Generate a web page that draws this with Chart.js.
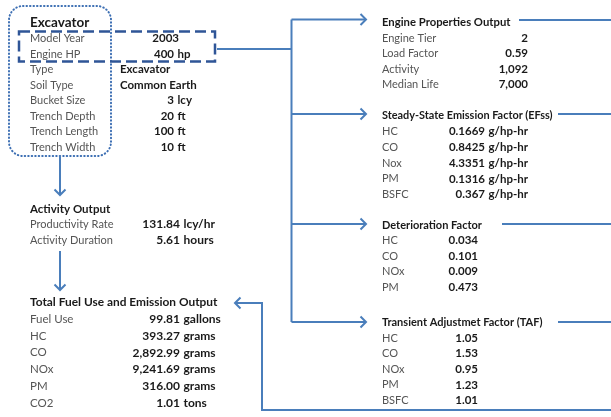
<!DOCTYPE html>
<html>
<head>
<meta charset="utf-8">
<script src="https://cdn.jsdelivr.net/npm/chart.js@4.4.0/dist/chart.umd.min.js"></script>
<style>
  html, body { margin: 0; padding: 0; background: #fff; }
  canvas { display: block; }
</style>
</head>
<body>
<canvas id="flow" width="611" height="417"></canvas>
<script>
// ---- data ----
const inputTitle = "Excavator";
const inputLabels = ["Model Year", "Engine HP", "Type", "Soil Type", "Bucket Size", "Trench Depth", "Trench Length", "Trench Width"];
const inputValues = ["2003", "400", "Excavator", "Common Earth", "3", "20", "100", "10"];
const inputUnits = ["", "hp", "", "", "lcy", "ft", "ft", "ft"];

const activityTitle = "Activity Output";
const activityLabels = ["Productivity Rate", "Activity Duration"];
const activityValues = ["131.84", "5.61"];
const activityUnits = ["lcy/hr", "hours"];

const totalTitle = "Total Fuel Use and Emission Output";
const totalLabels = ["Fuel Use", "HC", "CO", "NOx", "PM", "CO2"];
const totalValues = ["99.81", "393.27", "2,892.99", "9,241.69", "316.00", "1.01"];
const totalUnits = ["gallons", "grams", "grams", "grams", "grams", "tons"];

const engineTitle = "Engine Properties Output";
const engineLabels = ["Engine Tier", "Load Factor", "Activity", "Median Life"];
const engineValues = ["2", "0.59", "1,092", "7,000"];

const efTitle = "Steady-State Emission Factor (EFss)";
const efLabels = ["HC", "CO", "Nox", "PM", "BSFC"];
const efValues = ["0.1669", "0.8425", "4.3351", "0.1316", "0.367"];
const efUnits = ["g/hp-hr", "g/hp-hr", "g/hp-hr", "g/hp-hr", "g/hp-hr"];

const detTitle = "Deterioration Factor";
const detLabels = ["HC", "CO", "NOx", "PM"];
const detValues = ["0.034", "0.101", "0.009", "0.473"];

const tafTitle = "Transient Adjustmet Factor (TAF)";
const tafLabels = ["HC", "CO", "NOx", "PM", "BSFC"];
const tafValues = ["1.05", "1.53", "0.95", "1.23", "1.01"];

// ---- look ----
const FONT = "Lato, 'Open Sans', sans-serif";
const labelColor = "#555555";
const valueColor = "#1a1a1a";
const lineColor = "#4a7ebb";
const boxColor = "#2f5597";

// text blocks; x/y in canvas units, converted through the chart scales
const blocks = [
  { title: inputTitle, titleSize: 13.5, labelSize: 11, valueSize: 11.5, labels: inputLabels, values: inputValues, units: inputUnits,
    x: 30, titleY: 22.5, y: 38.5, step: 15.5, numRight: 174, textLeft: 120 },
  { title: activityTitle, titleSize: 11.5, labelSize: 11, valueSize: 12, labels: activityLabels, values: activityValues, units: activityUnits,
    x: 30, titleY: 209, y: 224.5, step: 15.8, numRight: 180 },
  { title: totalTitle, titleSize: 11.9, labelSize: 11.5, valueSize: 12, labels: totalLabels, values: totalValues, units: totalUnits,
    x: 30, titleY: 302.5, y: 319.3, step: 16.7, numRight: 180 },
  { title: engineTitle, titleSize: 11.3, labelSize: 11, valueSize: 11.5, labels: engineLabels, values: engineValues,
    x: 382, titleY: 22, y: 38.3, step: 15.4, numRight: 528 },
  { title: efTitle, titleSize: 10.9, labelSize: 11, valueSize: 11.5, labels: efLabels, values: efValues, units: efUnits,
    x: 382, titleY: 115, y: 131.7, step: 15.7, numRight: 485 },
  { title: detTitle, titleSize: 11, labelSize: 11, valueSize: 11.5, labels: detLabels, values: detValues,
    x: 382, titleY: 225, y: 240.5, step: 15.5, numRight: 478 },
  { title: tafTitle, titleSize: 11, labelSize: 11, valueSize: 11.5, labels: tafLabels, values: tafValues,
    x: 382, titleY: 322.3, y: 338, step: 15.6, numRight: 478 }
];

function drawBlock(ctx, X, Y, b) {
  ctx.textBaseline = "middle";
  ctx.fillStyle = valueColor;
  ctx.textAlign = "left";
  ctx.font = "bold " + b.titleSize + "px " + FONT;
  ctx.fillText(b.title, X(b.x), Y(b.titleY));
  b.labels.forEach((lab, i) => {
    const y = Y(b.y + i * b.step);
    ctx.font = b.labelSize + "px " + FONT;
    ctx.fillStyle = labelColor;
    ctx.textAlign = "left";
    ctx.fillText(lab, X(b.x), y);
    const v = b.values[i];
    ctx.font = "bold " + b.valueSize + "px " + FONT;
    ctx.fillStyle = valueColor;
    if (/^[\d.,]+$/.test(v)) {
      ctx.textAlign = "right";
      const hasUnit = b.units && b.units[i];
      const right = hasUnit ? b.numRight : b.numRight + (b.textLeft ? 5 : 0);
      ctx.fillText(v, X(right), y);
      if (hasUnit) {
        ctx.textAlign = "left";
        ctx.fillText(b.units[i], X(b.numRight + 3.5), y);
      }
    } else {
      ctx.textAlign = "left";
      ctx.fillText(v, X(b.textLeft), y);
    }
  });
}

function path(ctx, X, Y, pts) {
  ctx.beginPath();
  pts.forEach((p, i) => i ? ctx.lineTo(X(p[0]), Y(p[1])) : ctx.moveTo(X(p[0]), Y(p[1])));
  ctx.stroke();
}

function arrowHead(ctx, X, Y, x, y, dir) {
  // open chevron, dir: 'right' | 'down' | 'left'
  const s = 5.5;
  let pts;
  if (dir === "right") pts = [[x - s, y - s], [x, y], [x - s, y + s]];
  else if (dir === "left") pts = [[x + s, y - s], [x, y], [x + s, y + s]];
  else pts = [[x - s, y - s], [x, y], [x + s, y - s]];
  path(ctx, X, Y, pts);
}

const flowPlugin = {
  id: "flow",
  afterDraw(chart) {
    const ctx = chart.ctx;
    const X = v => chart.scales.x.getPixelForValue(v);
    const Y = v => chart.scales.y.getPixelForValue(v);
    ctx.save();

    // dotted rounded input box
    ctx.strokeStyle = "#3d6fb3";
    ctx.lineWidth = 2;
    ctx.lineCap = "round";
    ctx.setLineDash([0.5, 3]);
    ctx.beginPath();
    ctx.roundRect(X(9), Y(6), X(111) - X(9), Y(156) - Y(6), 14);
    ctx.stroke();

    // dashed highlight box (year + hp)
    ctx.lineCap = "butt";
    ctx.strokeStyle = boxColor;
    ctx.lineWidth = 2.5;
    ctx.setLineDash([11, 5]);
    ctx.strokeRect(X(19), Y(31.5), X(215) - X(19), Y(61.5) - Y(31.5));
    ctx.setLineDash([]);

    // connectors
    ctx.strokeStyle = lineColor;
    ctx.lineWidth = 2;
    path(ctx, X, Y, [[217, 49], [291.5, 49]]);
    path(ctx, X, Y, [[291.5, 19.5], [291.5, 322]]);
    [19.5, 114, 224, 322].forEach(y => {
      path(ctx, X, Y, [[291.5, y], [366, y]]);
      arrowHead(ctx, X, Y, 366, y, "right");
    });
    // outgoing lines on the right
    path(ctx, X, Y, [[519, 20], [611, 20]]);
    path(ctx, X, Y, [[558, 114], [611, 114]]);
    path(ctx, X, Y, [[502, 224], [611, 224]]);
    path(ctx, X, Y, [[558, 322], [611, 322]]);
    // return line to totals
    path(ctx, X, Y, [[611, 410], [262, 410], [262, 303], [235, 303]]);
    arrowHead(ctx, X, Y, 235, 303, "left");
    // left vertical flow
    path(ctx, X, Y, [[60, 157], [60, 195]]);
    arrowHead(ctx, X, Y, 60, 195, "down");
    path(ctx, X, Y, [[60, 251], [60, 290]]);
    arrowHead(ctx, X, Y, 60, 290, "down");

    blocks.forEach(b => drawBlock(ctx, X, Y, b));
    ctx.restore();
  }
};

new Chart(document.getElementById("flow"), {
  type: "scatter",
  data: { datasets: [{ data: [], pointRadius: 0 }] },
  options: {
    responsive: false,
    animation: false,
    devicePixelRatio: 1,
    layout: { padding: 0 },
    plugins: { legend: { display: false }, tooltip: { enabled: false } },
    scales: {
      x: { type: "linear", min: 0, max: 611, display: false },
      y: { type: "linear", min: 0, max: 417, reverse: true, display: false }
    }
  },
  plugins: [flowPlugin]
});
</script>
</body>
</html>
